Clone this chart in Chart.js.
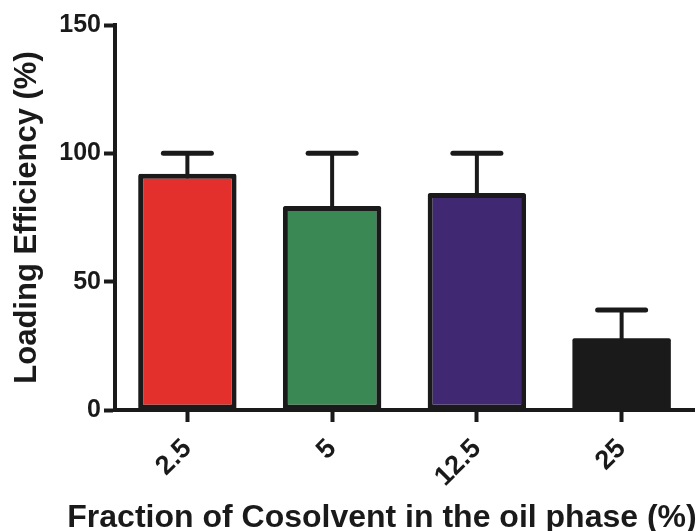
<!DOCTYPE html>
<html>
<head>
<meta charset="utf-8">
<script src="https://cdn.jsdelivr.net/npm/chart.js@4.4.1/dist/chart.umd.min.js"></script>
<style>
  html, body { margin: 0; padding: 0; background: #ffffff; }
  #wrap { width: 698px; height: 531px; position: relative; }
</style>
</head>
<body>
<div id="wrap"><canvas id="chart" width="698" height="531"></canvas></div>
<script>
// Loading efficiency per cosolvent fraction, with the upper error (SD)
const categories = ['2.5', '5', '12.5', '25'];
const efficiency = [92, 79.5, 84.5, 28];
const errorUpper = [8, 20.5, 15.5, 11];
const yTicks = [0, 50, 100, 150];
const barColors = ['#E3302D', '#3A8853', '#402872', '#1A1A1A'];

const INK = '#1A1A1A';
const FONT = '"Liberation Sans", Arial, sans-serif';

// One-sided error bars: stem from the bar top up to a capped whisker
const errorBars = {
  id: 'errorBars',
  beforeDatasetsDraw(chart) {
    const ctx = chart.ctx;
    const meta = chart.getDatasetMeta(0);
    const y = chart.scales.y;
    ctx.save();
    ctx.strokeStyle = INK;
    ctx.lineCap = 'round';
    meta.data.forEach((bar, i) => {
      const top = y.getPixelForValue(efficiency[i] + errorUpper[i]);
      const base = y.getPixelForValue(efficiency[i]);
      ctx.lineWidth = 4;
      ctx.beginPath();
      ctx.moveTo(bar.x, base + 3);
      ctx.lineTo(bar.x, top);
      ctx.stroke();
      ctx.lineWidth = 5;
      ctx.beginPath();
      ctx.moveTo(bar.x - 24, top);
      ctx.lineTo(bar.x + 24, top);
      ctx.stroke();
    });
    ctx.restore();
  }
};

// X axis title set under the rotated category labels
const xTitle = {
  id: 'xTitle',
  afterDraw(chart) {
    const ctx = chart.ctx;
    ctx.save();
    ctx.fillStyle = INK;
    ctx.font = 'bold 32px ' + FONT;
    ctx.textAlign = 'center';
    ctx.textBaseline = 'alphabetic';
    ctx.fillText('Fraction of Cosolvent in the oil phase (%)', 382, 527);
    ctx.restore();
  }
};

new Chart(document.getElementById('chart'), {
  type: 'bar',
  data: {
    labels: categories,
    datasets: [{
      data: efficiency,
      backgroundColor: barColors,
      borderColor: INK,
      borderWidth: [5, 5, 5, 0],
      borderRadius: 2,
      borderSkipped: false,
      barPercentage: 0.68,
      categoryPercentage: 1
    }]
  },
  options: {
    responsive: false,
    animation: false,
    layout: { padding: { top: 25, right: 4, left: 0, bottom: 0 } },
    plugins: { legend: { display: false }, tooltip: { enabled: false } },
    scales: {
      x: {
        grid: { display: true, drawOnChartArea: false, offset: false, drawTicks: true, tickLength: 12, tickWidth: 4, tickColor: INK },
        border: { display: true, color: INK, width: 4 },
        ticks: { color: INK, font: { family: FONT, size: 27, weight: 'bold' }, minRotation: 45, maxRotation: 45, padding: 11 },
        afterFit(scale) { scale.height = 121; }
      },
      y: {
        min: 0,
        max: 150,
        afterBuildTicks(scale) { scale.ticks = yTicks.map(v => ({ value: v })); },
        grid: { display: true, drawOnChartArea: false, drawTicks: true, tickLength: 11, tickWidth: 4, tickColor: INK },
        border: { display: true, color: INK, width: 4 },
        ticks: { color: INK, font: { family: FONT, size: 25, weight: 'bold' }, padding: 3 },
        title: { display: true, text: 'Loading Efficiency (%)', color: INK, font: { family: FONT, size: 31, weight: 'bold' }, padding: { top: 9, bottom: 0 } },
        afterFit(scale) { scale.width = 115; }
      }
    }
  },
  plugins: [errorBars, xTitle]
});
</script>
</body>
</html>
